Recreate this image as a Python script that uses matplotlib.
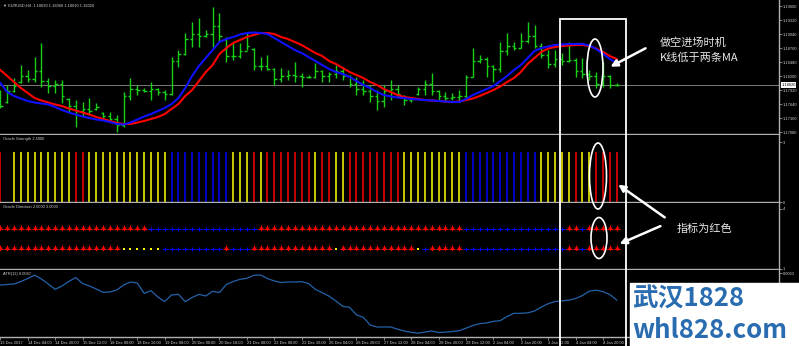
import matplotlib.pyplot as plt
from matplotlib.patches import Rectangle, Ellipse, FancyArrowPatch

# EURUSD H4, 13 Dec 2017 .. 5 Jan 2018
opens = [1.1785, 1.1768, 1.1790, 1.1808, 1.1820, 1.1815, 1.1830, 1.1810, 1.1800, 1.1805,
         1.1774, 1.1760, 1.1750, 1.1755, 1.1754, 1.1746, 1.1740, 1.1735, 1.1722, 1.1780,
         1.1795, 1.1792, 1.1790, 1.1795, 1.1788, 1.1785, 1.1850, 1.1865, 1.1895, 1.1905,
         1.1900, 1.1905, 1.1920, 1.1895, 1.1860, 1.1860, 1.1870, 1.1874, 1.1840, 1.1840,
         1.1835, 1.1815, 1.1820, 1.1822, 1.1820, 1.1818, 1.1818, 1.1830, 1.1820, 1.1825,
         1.1830, 1.1820, 1.1805, 1.1795, 1.1790, 1.1780, 1.1770, 1.1790, 1.1795, 1.1780,
         1.1772, 1.1784, 1.1795, 1.1805, 1.1790, 1.1780, 1.1776, 1.1778, 1.1780, 1.1818,
         1.1850, 1.1855, 1.1840, 1.1835, 1.1870, 1.1880, 1.1876, 1.1890, 1.1900, 1.1880,
         1.1862, 1.1845, 1.1855, 1.1850, 1.1852, 1.1830, 1.1825, 1.1820, 1.1805, 1.1820,
         1.1802]
highs = [1.1792, 1.1802, 1.1816, 1.1842, 1.1832, 1.1858, 1.1886, 1.1816, 1.1812, 1.1812,
         1.1776, 1.1772, 1.1768, 1.1776, 1.1766, 1.1748, 1.1748, 1.1742, 1.1788, 1.1816,
         1.1802, 1.1796, 1.1808, 1.1796, 1.1792, 1.1858, 1.1872, 1.1906, 1.1928, 1.1936,
         1.1912, 1.1958, 1.1946, 1.1898, 1.1886, 1.1886, 1.1906, 1.1876, 1.1858, 1.1862,
         1.1836, 1.1836, 1.1832, 1.1848, 1.1826, 1.1822, 1.1846, 1.1832, 1.1828, 1.1842,
         1.1838, 1.1822, 1.1818, 1.1812, 1.1802, 1.1792, 1.1802, 1.1812, 1.1802, 1.1782,
         1.1778, 1.1798, 1.1812, 1.1826, 1.1792, 1.1788, 1.1786, 1.1792, 1.1822, 1.1876,
         1.1862, 1.1858, 1.1842, 1.1888, 1.1906, 1.1888, 1.1906, 1.1928, 1.1922, 1.1886,
         1.1872, 1.1872, 1.1866, 1.1888, 1.1856, 1.1856, 1.1832, 1.1828, 1.1848, 1.1822,
         1.1806]
lows = [1.1756, 1.1766, 1.1788, 1.1806, 1.1808, 1.1808, 1.1798, 1.1786, 1.1786, 1.1766,
        1.1746, 1.1718, 1.1738, 1.1742, 1.1752, 1.1732, 1.1728, 1.1708, 1.1718, 1.1772,
        1.1782, 1.1788, 1.1772, 1.1782, 1.1772, 1.1782, 1.1838, 1.1862, 1.1878, 1.1878,
        1.1898, 1.1878, 1.1888, 1.1848, 1.1852, 1.1856, 1.1872, 1.1832, 1.1832, 1.1832,
        1.1802, 1.1808, 1.1812, 1.1808, 1.1798, 1.1816, 1.1816, 1.1808, 1.1808, 1.1816,
        1.1812, 1.1798, 1.1782, 1.1782, 1.1768, 1.1752, 1.1758, 1.1772, 1.1778, 1.1762,
        1.1768, 1.1782, 1.1782, 1.1782, 1.1772, 1.1768, 1.1772, 1.1768, 1.1776, 1.1818,
        1.1846, 1.1818, 1.1808, 1.1828, 1.1862, 1.1872, 1.1876, 1.1886, 1.1876, 1.1856,
        1.1836, 1.1838, 1.1842, 1.1848, 1.1818, 1.1816, 1.1812, 1.1796, 1.1798, 1.1796,
        1.1800]
closes = [1.1760, 1.1790, 1.1800, 1.1820, 1.1815, 1.1830, 1.1810, 1.1800, 1.1805, 1.1780,
          1.1760, 1.1750, 1.1755, 1.1750, 1.1758, 1.1740, 1.1735, 1.1722, 1.1780, 1.1795,
          1.1792, 1.1790, 1.1795, 1.1788, 1.1785, 1.1850, 1.1865, 1.1895, 1.1905, 1.1900,
          1.1905, 1.1920, 1.1900, 1.1860, 1.1860, 1.1870, 1.1880, 1.1840, 1.1840, 1.1835,
          1.1815, 1.1820, 1.1822, 1.1820, 1.1818, 1.1818, 1.1830, 1.1820, 1.1825, 1.1830,
          1.1820, 1.1805, 1.1795, 1.1790, 1.1780, 1.1770, 1.1790, 1.1795, 1.1785, 1.1772,
          1.1775, 1.1795, 1.1805, 1.1790, 1.1780, 1.1776, 1.1778, 1.1780, 1.1818, 1.1850,
          1.1855, 1.1840, 1.1835, 1.1870, 1.1880, 1.1876, 1.1890, 1.1900, 1.1880, 1.1862,
          1.1845, 1.1855, 1.1850, 1.1852, 1.1830, 1.1825, 1.1820, 1.1805, 1.1820, 1.1802,
          1.1802]
ma_blue = [1.1806, 1.1788, 1.1780, 1.1775, 1.1770, 1.1767, 1.1765, 1.1763, 1.1758, 1.1752,
           1.1747, 1.1743, 1.1739, 1.1736, 1.1733, 1.1731, 1.1728, 1.1724, 1.1723, 1.1727,
           1.1733, 1.1739, 1.1744, 1.1750, 1.1756, 1.1764, 1.1776, 1.1796, 1.1820, 1.1840,
           1.1856, 1.1872, 1.1888, 1.1894, 1.1898, 1.1903, 1.1906, 1.1907, 1.1906, 1.1904,
           1.1896, 1.1888, 1.1880, 1.1872, 1.1866, 1.1858, 1.1850, 1.1842, 1.1834, 1.1828,
           1.1824, 1.1818, 1.1810, 1.1802, 1.1796, 1.1788, 1.1782, 1.1779, 1.1777, 1.1776,
           1.1774, 1.1773, 1.1772, 1.1771, 1.1770, 1.1769, 1.1768, 1.1768, 1.1774, 1.1782,
           1.1788, 1.1794, 1.1800, 1.1810, 1.1820, 1.1832, 1.1842, 1.1856, 1.1870, 1.1876,
           1.1879, 1.1882, 1.1883, 1.1884, 1.1884, 1.1884, 1.1881, 1.1874, 1.1864, 1.1854,
           1.1846]
ma_red = [1.1832, 1.1820, 1.1808, 1.1796, 1.1786, 1.1776, 1.1771, 1.1767, 1.1763, 1.1760,
          1.1755, 1.1751, 1.1747, 1.1743, 1.1738, 1.1734, 1.1730, 1.1726, 1.1724, 1.1724,
          1.1727, 1.1730, 1.1734, 1.1738, 1.1744, 1.1754, 1.1764, 1.1780, 1.1792, 1.1810,
          1.1828, 1.1842, 1.1864, 1.1876, 1.1886, 1.1892, 1.1898, 1.1902, 1.1906, 1.1906,
          1.1904, 1.1898, 1.1894, 1.1888, 1.1882, 1.1874, 1.1866, 1.1860, 1.1850, 1.1844,
          1.1836, 1.1828, 1.1822, 1.1816, 1.1808, 1.1802, 1.1794, 1.1788, 1.1782, 1.1778,
          1.1776, 1.1774, 1.1772, 1.1771, 1.1770, 1.1769, 1.1768, 1.1769, 1.1772, 1.1775,
          1.1780, 1.1786, 1.1792, 1.1799, 1.1808, 1.1816, 1.1828, 1.1844, 1.1856, 1.1868,
          1.1875, 1.1878, 1.1880, 1.1881, 1.1882, 1.1882, 1.1880, 1.1875, 1.1868, 1.1860,
          1.1854]
price_ticks = [1.1960, 1.1932, 1.1904, 1.1876, 1.1848, 1.1820, 1.1792, 1.1764, 1.1736, 1.1708]
last_price = 1.1802

# Oracle Strength histogram colours, one char per bar (R red, Y yellow, B blue, - none)
strength_level = 2.5
strength_cols = ("R-YYYYYYYYYRRYYYYYYYYYYYYBBBBBBBBBYYYRYRRRRRRRYRRYY"
                 "RRRRRRRRYYYYYYYYYBBBBBBBBBBBYYYYYRYYRRRR")
# Oracle Direction, two signal rows
dir_upper = ("RRRRRRRRRRRRRRRRRRRRRRBBBBBBBBBBBBBBBBRRRRRRRRRRRRRRR"
             "RRRRRRRRRRRRRRRBBBBBBBBBBBBBBBRRBRRRRR")
dir_lower = ("RRRRRRRRRRRRRRRRRRYYYYYYBBBBBBBBBRBBBRRRRRRRRRRRRYRRR"
             "RRRRRRRRYBRRRRRBBBBBBBBBBBBBBBRRBRRRRR")

atr = [0.00560, 0.00563, 0.00566, 0.00581, 0.00599, 0.00619, 0.00596, 0.00566, 0.00534, 0.00554,
       0.00581, 0.00605, 0.00569, 0.00554, 0.00536, 0.00516, 0.00518, 0.00530, 0.00560, 0.00578,
       0.00572, 0.00510, 0.00526, 0.00488, 0.00461, 0.00500, 0.00504, 0.00460, 0.00485, 0.00504,
       0.00494, 0.00522, 0.00515, 0.00563, 0.00581, 0.00594, 0.00600, 0.00618, 0.00620, 0.00599,
       0.00584, 0.00575, 0.00578, 0.00578, 0.00580, 0.00569, 0.00534, 0.00514, 0.00493, 0.00464,
       0.00432, 0.00426, 0.00381, 0.00366, 0.00320, 0.00308, 0.00308, 0.00308, 0.00295, 0.00284,
       0.00276, 0.00271, 0.00278, 0.00284, 0.00275, 0.00277, 0.00281, 0.00286, 0.00301, 0.00317,
       0.00328, 0.00332, 0.00342, 0.00346, 0.00371, 0.00390, 0.00390, 0.00393, 0.00404, 0.00428,
       0.00448, 0.00461, 0.00465, 0.00469, 0.00479, 0.00497, 0.00523, 0.00529, 0.00520, 0.00503,
       0.00470]

date_labels = ["13 Dec 2017", "14 Dec 04:00", "14 Dec 20:00", "15 Dec 12:00", "18 Dec 00:00",
               "18 Dec 16:00", "19 Dec 08:00", "20 Dec 00:00", "20 Dec 16:00", "21 Dec 08:00",
               "22 Dec 00:00", "22 Dec 16:00", "26 Dec 04:00", "26 Dec 20:00", "27 Dec 12:00",
               "28 Dec 04:00", "28 Dec 20:00", "29 Dec 12:00", "2 Jan 04:00", "2 Jan 20:00",
               "3 Jan 12:00", "4 Jan 04:00", "4 Jan 20:00"]

W, H = 799, 346
LINE = '#b0b0b0'
TXT = '#d0d0d0'
GREEN = '#16d016'
COL = {'R': '#ff0000', 'Y': '#ffff00', 'B': '#0000ff'}
CJK = ['Noto Sans CJK SC', 'DejaVu Sans']
SMALL = ['Liberation Sans Narrow', 'Liberation Sans', 'DejaVu Sans']
FS = 2.9

fig = plt.figure(figsize=(W / 100, H / 100), dpi=100, facecolor='black')


def fx(px):
    return px / W


def fy(py):
    return 1 - py / H


def panel(top, bottom):
    ax = fig.add_axes([0, fy(bottom), fx(779), (bottom - top) / H], facecolor='black')
    ax.spines['left'].set_visible(False)
    ax.spines['top'].set_visible(False)
    for s in ('right', 'bottom'):
        ax.spines[s].set_color(LINE)
        ax.spines[s].set_linewidth(1.0)
    ax.yaxis.tick_right()
    ax.tick_params(axis='y', colors=LINE, labelcolor=TXT, labelsize=FS,
                   length=1.8, width=0.5, pad=0.8)
    ax.set_xticks([])
    ax.set_xlim(-0.05, 113.7)
    return ax


def small_fonts(ax):
    for lbl in ax.get_yticklabels() + ax.get_xticklabels():
        lbl.set_family(SMALL)


x = list(range(len(highs)))

# --- price panel
ax1 = panel(0, 134)
ax1.set_ylim(1.1704, 1.1972)
ax1.axhline(last_price, color='#7a7a7a', lw=0.7, zorder=1)
ax1.vlines(x, lows, highs, color=GREEN, lw=1.0, zorder=2)
ax1.hlines(opens, [i - 0.35 for i in x], x, color=GREEN, lw=1.0, zorder=2)
ax1.hlines(closes, x, [i + 0.35 for i in x], color=GREEN, lw=1.0, zorder=2)
ax1.plot(x, ma_red, color='#ff0000', lw=1.5, zorder=3)
ax1.plot(x, ma_blue, color='#1010ff', lw=1.5, zorder=4)
ax1.set_yticks(price_ticks)
ax1.set_yticklabels([f"{v:.5f}" for v in price_ticks])
small_fonts(ax1)
ax1.text(1.003, last_price, f"{last_price:.5f}", transform=ax1.get_yaxis_transform(),
         fontsize=FS, color='black', va='center', ha='left', family=SMALL,
         bbox=dict(facecolor='white', edgecolor='none', pad=0.4))
ax1.text(0.004, 0.975, "\u25bc EURUSD,H4  1.18030 1.18060 1.18010 1.18020",
         transform=ax1.transAxes, fontsize=FS, color=TXT, va='top', family=SMALL)

# --- Oracle Strength
ax2 = panel(135, 202)
ax2.set_ylim(0, 3.35)
sx = [i for i, c in zip(x, strength_cols) if c != '-']
sc = [COL[c] for c in strength_cols if c != '-']
ax2.vlines(sx, 0, strength_level, colors=sc, lw=1.1)
ax2.set_yticks([3, 0])
ax2.set_yticklabels(['3', '0'])
small_fonts(ax2)
ax2.text(0.004, 0.97, "Oracle Strength 2.5000", transform=ax2.transAxes,
         fontsize=FS, color=TXT, va='top', family=SMALL)

# --- Oracle Direction
ax3 = panel(203, 269)
ax3.set_ylim(1, 4.3)
for level, row in ((3, dir_upper), (2, dir_lower)):
    for code in 'RBY':
        xs = [i for i, c in zip(x, row) if c == code]
        ys = [level] * len(xs)
        if code == 'R':
            ax3.plot(xs, ys, ls='none', marker='_', ms=4.5, mew=0.8, color=COL['R'])
            ax3.plot(xs, ys, ls='none', marker='v', ms=3.0, mew=0, color=COL['R'])
            ax3.plot(xs, [level + 0.12] * len(xs), ls='none', marker='|', ms=2.2,
                     mew=0.7, color=COL['R'])
        elif code == 'B':
            ax3.plot(xs, ys, ls='none', marker='_', ms=4.5, mew=0.8, color=COL['B'])
            ax3.plot(xs, ys, ls='none', marker='|', ms=3.0, mew=0.7, color=COL['B'])
        else:
            ax3.plot(xs, ys, ls='none', marker='s', ms=2.0, mew=0, color=COL['Y'])
ax3.set_yticks([4, 1])
ax3.set_yticklabels(['4', '1'])
small_fonts(ax3)
ax3.text(0.004, 0.97, "Oracle Direction 2.0000 3.0000", transform=ax3.transAxes,
         fontsize=FS, color=TXT, va='top', family=SMALL)

# --- ATR
ax4 = panel(270, 337)
ax4.set_ylim(0.00248, 0.0065)
ax4.plot(x, atr, color='#2462aa', lw=0.9)
ax4.set_yticks([0.0063])
ax4.set_yticklabels(['0.0063'])
ax4.text(0.004, 0.97, "ATR(12) 0.0047", transform=ax4.transAxes,
         fontsize=FS, color=TXT, va='top', family=SMALL)
ax4.set_xticks(list(range(0, 4 * len(date_labels), 4)))
ax4.set_xticklabels(date_labels, ha='left')
ax4.tick_params(axis='x', colors=LINE, labelcolor=TXT, labelsize=FS,
                length=1.8, width=0.5, pad=0.8)
small_fonts(ax4)

# --- annotations
fig.add_artist(Rectangle((fx(560), fy(350)), (626 - 560) / W, (350 - 19) / H,
                         transform=fig.transFigure, fill=False, ec='white', lw=1.3, zorder=20))
for cx, cy, w, h in ((595, 68, 16, 58), (598, 176, 17, 66), (599, 238, 16, 41)):
    fig.add_artist(Ellipse((fx(cx), fy(cy)), w / W, h / H, transform=fig.transFigure,
                           fill=False, ec='white', lw=1.2, zorder=20))
for (x0, y0), (x1, y1) in (((648, 47), (608, 68)), ((667, 219), (616, 183)),
                           ((663, 225), (617, 245))):
    fig.add_artist(FancyArrowPatch((fx(x0), fy(y0)), (fx(x1), fy(y1)),
                                   transform=fig.transFigure, arrowstyle='-|>',
                                   mutation_scale=10, color='white', lw=1.8, zorder=21))
fig.text(fx(660), fy(43), "做空进场时机", fontsize=8, color='#e8e8e8',
         va='center', ha='left', family=CJK)
fig.text(fx(660), fy(58), "K线低于两条MA", fontsize=8, color='#e8e8e8',
         va='center', ha='left', family=CJK)
fig.text(fx(677), fy(229), "指标为红色", fontsize=8, color='#e8e8e8',
         va='center', ha='left', family=CJK)

# --- watermark
fig.add_artist(Rectangle((fx(630), 0), (W - 630) / W, (346 - 283) / H,
                         transform=fig.transFigure, color='white', zorder=30))
fig.text(fx(632), fy(299), "武汉1828", fontsize=18.5, color='#2a6cb0', fontweight='bold',
         va='center', ha='left', family=CJK, zorder=31)
fig.text(fx(632), fy(330), "whl828.com", fontsize=18.5, color='#2a6cb0', fontweight='bold',
         va='center', ha='left', family=CJK, zorder=31)

fig.savefig('out.png', dpi=100, facecolor='black')
